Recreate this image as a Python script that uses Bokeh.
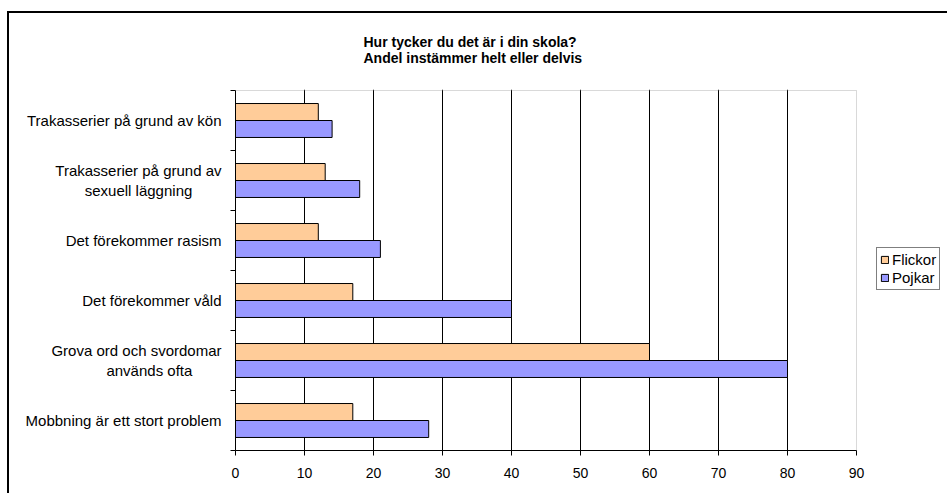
from bokeh.plotting import figure
from bokeh.models import (Range1d, FixedTicker, Legend, LegendItem, Title,
                          ColumnDataSource, BoxAnnotation)
from bokeh.embed import file_html
from bokeh.resources import INLINE

NBSP = "\u00a0"

# ---- data (top to bottom as in the chart) ----
categories = [
    "Trakasserier på grund av kön",
    "Trakasserier på grund av\nsexuell läggning" + NBSP * 7,
    "Det förekommer rasism",
    "Det förekommer våld",
    "Grova ord och svordomar\nanvänds ofta" + NBSP * 7,
    "Mobbning är ett stort problem",
]
flickor = [12, 13, 12, 17, 60, 17]
pojkar = [14, 18, 21, 40, 80, 28]
x_ticks = [0, 10, 20, 30, 40, 50, 60, 70, 80, 90]
grid_ticks = [10, 20, 30, 40, 50, 60, 70, 80]
series_names = ["Flickor", "Pojkar"]
title_text = "Hur tycker du det är i din skola?\nAndel instämmer helt eller delvis"

FONT = "Liberation Sans"
ORANGE = "#FFCC99"
BLUE = "#9999FF"

W, H = 947, 493
PLOT_L, PLOT_R, PLOT_T, PLOT_B = 235, 856, 89, 450   # plot-area pixels
x_max = x_ticks[-1]
px_x = (PLOT_R - PLOT_L) / x_max
n = len(categories)
px_y = 60.0

centers = [n - 1 - i + 0.5 for i in range(n)]
bar_h = 0.283
off = bar_h / 2

src_f = ColumnDataSource(dict(y=[c + off for c in centers], right=flickor))
src_p = ColumnDataSource(dict(y=[c - off for c in centers], right=pojkar))

p = figure(width=W, height=H,
           x_range=Range1d(0, x_max + (W - PLOT_R) / px_x),
           y_range=Range1d(0, (PLOT_B - PLOT_T) / px_y),
           output_backend="svg", toolbar_location=None,
           min_border_left=PLOT_L, min_border_right=0,
           min_border_top=PLOT_T, min_border_bottom=H - PLOT_B)
p.background_fill_color = "white"
p.border_fill_alpha = 0
p.outline_line_color = None
# outer chart frame (cropped on right/bottom like the reference)
p.styles = {"background": "linear-gradient(#000,#000) 7px 11px / 2px 100% no-repeat, "
                          "linear-gradient(#000,#000) 7px 11px / 100% 2px no-repeat, #fff"}

# plot-area border (grey)
p.add_layout(BoxAnnotation(left=0, right=x_max, bottom=0, top=n,
                           fill_alpha=0, line_color="#808080", line_width=1,
                           level="underlay"))

# grid
p.ygrid.visible = False
p.xgrid.ticker = FixedTicker(ticks=grid_ticks)
p.xgrid.grid_line_color = "black"
p.xgrid.grid_line_width = 1
p.xgrid.bounds = (0, n)

rf = p.hbar(y="y", right="right", left=0, height=bar_h, source=src_f,
            fill_color=ORANGE, line_color="black", line_width=1)
rp = p.hbar(y="y", right="right", left=0, height=bar_h, source=src_p,
            fill_color=BLUE, line_color="black", line_width=1)

# x axis
xa = p.xaxis[0]
xa.ticker = FixedTicker(ticks=x_ticks)
xa.bounds = (0, x_max)
xa.major_tick_in = 0
xa.major_tick_out = 5
xa.minor_tick_line_color = None
xa.axis_line_color = "black"
xa.major_tick_line_color = "black"
xa.major_label_text_font = FONT
xa.major_label_text_font_size = "14px"
xa.major_label_text_color = "black"
xa.major_label_standoff = 12

# y axis
ya = p.yaxis[0]
ya.ticker = FixedTicker(ticks=centers, minor_ticks=list(range(n + 1)))
ya.bounds = (0, n)
ya.major_tick_in = 0
ya.major_tick_out = 0
ya.minor_tick_in = 0
ya.minor_tick_out = 5
ya.minor_tick_line_color = "black"
ya.axis_line_color = "black"
ya.major_label_overrides = {c: lab for c, lab in zip(centers, categories)}
ya.major_label_text_font = FONT
ya.major_label_text_font_size = "15px"
ya.major_label_text_color = "black"
ya.major_label_standoff = 9

# legend (right of the plot area)
legend = Legend(items=[LegendItem(label=series_names[0], renderers=[rf]),
                       LegendItem(label=series_names[1], renderers=[rp])],
                location=(876 - PLOT_L, PLOT_B - 290))
legend.label_text_font = FONT
legend.label_text_font_size = "15px"
legend.label_text_color = "black"
legend.glyph_width = 9
legend.glyph_height = 9
legend.label_height = 17
legend.label_standoff = 3
legend.padding = 3
legend.spacing = 1
legend.margin = 0
legend.border_line_color = "black"
legend.border_line_width = 1
legend.background_fill_alpha = 1
p.add_layout(legend, "center")

# title (two lines)
p.add_layout(Title(text=title_text, align="left", offset=128,
                   vertical_align="bottom", standoff=48,
                   text_font=FONT, text_font_size="14px",
                   text_font_style="bold", text_color="black"), "above")

open("out.html", "w").write(file_html(p, INLINE))
